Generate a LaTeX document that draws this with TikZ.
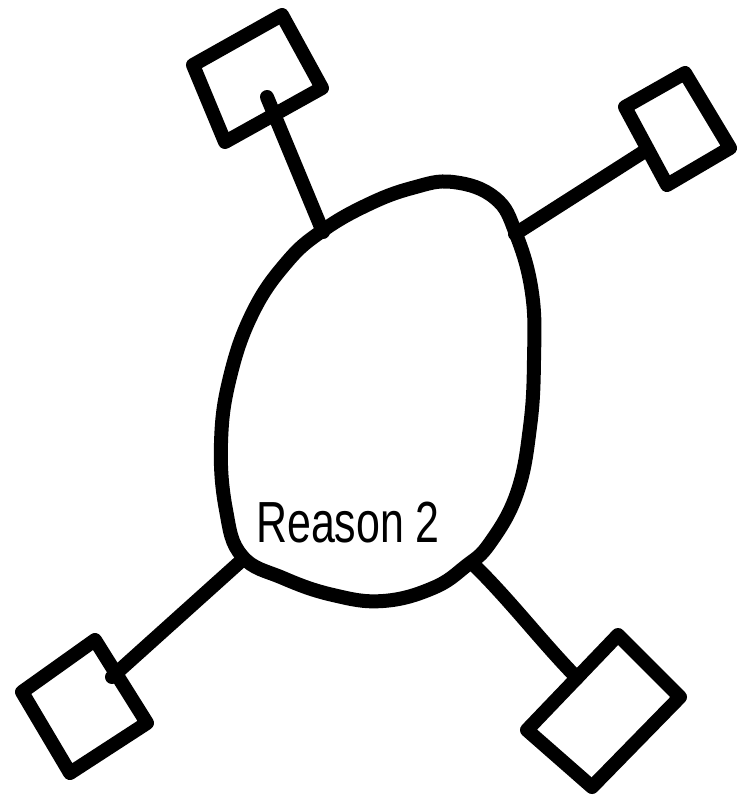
\documentclass[tikz,border=0pt]{standalone}
\usepackage{fontspec}
\newfontfamily\handfont{Liberation Sans}
\begin{document}
\begin{tikzpicture}[x=1pt,y=-1pt,
  ink/.style={line width=14pt, line cap=round, line join=round, black},
  box/.style={ink},
  link/.style={ink}]
\useasboundingbox (0,0) rectangle (741,801);
% egg
\draw[ink] plot[smooth cycle, tension=0.7] coordinates {
  (453,182) (495,198) (516,234) (532,293) (534,360) (530,427) (517,493)
  (490,543) (466,566) (433,588) (383,601) (333,595) (283,578) (242,556)
  (226,510) (221,443) (230,377) (253,312) (287,262) (322,231) (367,205) (412,188)};
% attachment points on egg
\coordinate (eTL) at (323,232);
\coordinate (eTR) at (515,234);
\coordinate (eBL) at (241,561);
\coordinate (eBR) at (472,563);
% squares
\coordinate (a1) at (193,65);  \coordinate (a2) at (282,15);
\coordinate (a3) at (322,88);  \coordinate (a4) at (225,142);
\draw[box] (a1) -- (a2) -- (a3) -- (a4) -- cycle;
\coordinate (b1) at (625,107); \coordinate (b2) at (685,73);
\coordinate (b3) at (730,148); \coordinate (b4) at (667,185);
\draw[box] (b1) -- (b2) -- (b3) -- (b4) -- cycle;
\coordinate (c1) at (22,692);  \coordinate (c2) at (95,640);
\coordinate (c3) at (147,723); \coordinate (c4) at (70,773);
\draw[box] (c1) -- (c2) -- (c3) -- (c4) -- cycle;
\coordinate (d1) at (527,730); \coordinate (d2) at (618,635);
\coordinate (d3) at (680,697); \coordinate (d4) at (592,787);
\draw[box] (d1) -- (d2) -- (d3) -- (d4) -- cycle;
% square attachment points
\coordinate (sTL) at (267,97);
\coordinate (sTR) at (645,151);
\coordinate (sBL) at (112,677);
\coordinate (sBR) at (577,678);
% connectors
\draw[link] (eTL) -- (sTL);
\draw[link] (eTR) -- (sTR);
\draw[link] (eBL) -- (sBL);
\draw[link] (eBR) .. controls (510,600) and (540,640) .. (sBR);
% label
\node[anchor=base west, inner sep=0pt, xscale=0.74, font=\handfont\fontsize{58}{58}\selectfont] (lbl) at (256,542) {Reason 2};
\end{tikzpicture}
\end{document}
